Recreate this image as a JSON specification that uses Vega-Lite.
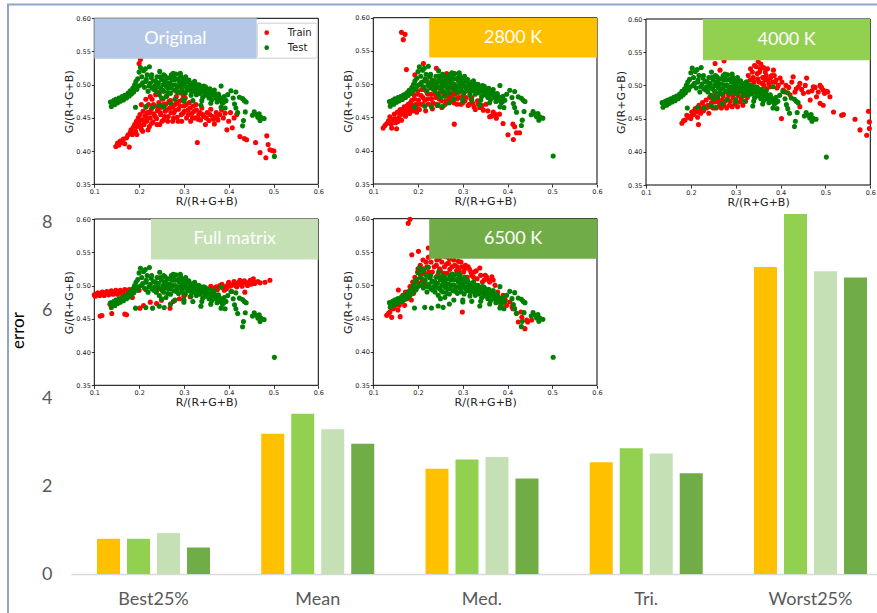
{
"$schema":"https://vega.github.io/schema/vega-lite/v6.json",
"width":806,"height":484,
"autosize":{"type":"none"},
"padding":{"left":71,"top":90,"right":0,"bottom":39},
"background":"white",
"datasets":{
"bars":[
{"stat":"Best25%","method":"2800 K","error":0.80},{"stat":"Best25%","method":"4000 K","error":0.80},{"stat":"Best25%","method":"Full matrix","error":0.93},{"stat":"Best25%","method":"6500 K","error":0.60},
{"stat":"Mean","method":"2800 K","error":3.19},{"stat":"Mean","method":"4000 K","error":3.64},{"stat":"Mean","method":"Full matrix","error":3.29},{"stat":"Mean","method":"6500 K","error":2.96},
{"stat":"Med.","method":"2800 K","error":2.39},{"stat":"Med.","method":"4000 K","error":2.60},{"stat":"Med.","method":"Full matrix","error":2.66},{"stat":"Med.","method":"6500 K","error":2.17},
{"stat":"Tri.","method":"2800 K","error":2.54},{"stat":"Tri.","method":"4000 K","error":2.86},{"stat":"Tri.","method":"Full matrix","error":2.74},{"stat":"Tri.","method":"6500 K","error":2.29},
{"stat":"Worst25%","method":"2800 K","error":6.98},{"stat":"Worst25%","method":"4000 K","error":8.18},{"stat":"Worst25%","method":"Full matrix","error":6.88},{"stat":"Worst25%","method":"6500 K","error":6.74}],
"border":[{"u":0,"u2":1,"v":0,"v2":1}],
"frame":[{"r":0.1,"r2":0.6,"g":0.35,"g2":0.6}],
"boxes":[{"panel":"Original","r":0.1,"r2":0.4625,"g":0.539,"g2":0.6},{"panel":"2800 K","r":0.225,"r2":0.6,"g":0.54,"g2":0.6},{"panel":"4000 K","r":0.227,"r2":0.6,"g":0.538,"g2":0.6},{"panel":"Full matrix","r":0.2266,"r2":0.6,"g":0.539,"g2":0.6},{"panel":"6500 K","r":0.225,"r2":0.6,"g":0.54,"g2":0.6}],
"labels":[{"panel":"Original","r":0.281,"g":0.5695},{"panel":"2800 K","r":0.4125,"g":0.57},{"panel":"4000 K","r":0.4135,"g":0.569},{"panel":"Full matrix","r":0.4133,"g":0.5695},{"panel":"6500 K","r":0.4125,"g":0.57}],
"test":[
{"r":0.136,"g":0.474},{"r":0.138,"g":0.467},{"r":0.140,"g":0.471},{"r":0.143,"g":0.476},{"r":0.146,"g":0.470},{"r":0.148,"g":0.478},{"r":0.152,"g":0.473},{"r":0.155,"g":0.480},{"r":0.158,"g":0.475},{"r":0.162,"g":0.482},{"r":0.165,"g":0.477},{"r":0.168,"g":0.484},{"r":0.172,"g":0.480},{"r":0.175,"g":0.487},{"r":0.178,"g":0.483},{"r":0.180,"g":0.491},{"r":0.183,"g":0.486},{"r":0.186,"g":0.495},{"r":0.188,"g":0.489},{"r":0.190,"g":0.500},{"r":0.192,"g":0.466},{"r":0.193,"g":0.505},{"r":0.195,"g":0.493},{"r":0.197,"g":0.509},{"r":0.199,"g":0.498},
{"r":0.200,"g":0.519},{"r":0.203,"g":0.526},{"r":0.206,"g":0.512},{"r":0.208,"g":0.503},{"r":0.210,"g":0.521},{"r":0.212,"g":0.496},{"r":0.214,"g":0.524},{"r":0.216,"g":0.508},{"r":0.218,"g":0.515},{"r":0.220,"g":0.490},{"r":0.223,"g":0.527},{"r":0.225,"g":0.502},{"r":0.227,"g":0.511},{"r":0.229,"g":0.495},
{"r":0.232,"g":0.506},{"r":0.235,"g":0.498},{"r":0.238,"g":0.490},{"r":0.240,"g":0.512},{"r":0.243,"g":0.503},{"r":0.245,"g":0.485},{"r":0.248,"g":0.495},{"r":0.250,"g":0.508},{"r":0.253,"g":0.500},{"r":0.255,"g":0.490},{"r":0.258,"g":0.513},{"r":0.260,"g":0.482},{"r":0.262,"g":0.503},{"r":0.265,"g":0.495},{"r":0.267,"g":0.510},{"r":0.270,"g":0.487},{"r":0.272,"g":0.515},{"r":0.275,"g":0.500},{"r":0.278,"g":0.492},{"r":0.280,"g":0.508},{"r":0.282,"g":0.516},{"r":0.285,"g":0.497},{"r":0.288,"g":0.488},{"r":0.290,"g":0.505},{"r":0.293,"g":0.513},{"r":0.295,"g":0.494},{"r":0.298,"g":0.500},{"r":0.300,"g":0.509},{"r":0.303,"g":0.487},{"r":0.305,"g":0.497},{"r":0.308,"g":0.505},{"r":0.310,"g":0.492},{"r":0.313,"g":0.500},{"r":0.316,"g":0.484},{"r":0.318,"g":0.496},{"r":0.320,"g":0.503},{"r":0.323,"g":0.490},{"r":0.326,"g":0.498},{"r":0.328,"g":0.485},{"r":0.331,"g":0.494},{"r":0.334,"g":0.500},{"r":0.336,"g":0.487},{"r":0.339,"g":0.493},{"r":0.342,"g":0.481},{"r":0.345,"g":0.490},{"r":0.348,"g":0.497},{"r":0.350,"g":0.484},{"r":0.353,"g":0.490},{"r":0.356,"g":0.480},{"r":0.359,"g":0.487},{"r":0.362,"g":0.477},{"r":0.365,"g":0.485},{"r":0.368,"g":0.492},{"r":0.371,"g":0.480},{"r":0.374,"g":0.474},{"r":0.377,"g":0.486},{"r":0.380,"g":0.478},{"r":0.383,"g":0.498},{"r":0.386,"g":0.472},{"r":0.390,"g":0.482},{"r":0.394,"g":0.476},
{"r":0.205,"g":0.500},{"r":0.215,"g":0.505},{"r":0.222,"g":0.498},{"r":0.228,"g":0.515},{"r":0.233,"g":0.493},{"r":0.237,"g":0.505},{"r":0.242,"g":0.497},{"r":0.247,"g":0.512},{"r":0.252,"g":0.492},{"r":0.257,"g":0.505},{"r":0.261,"g":0.497},{"r":0.264,"g":0.488},{"r":0.268,"g":0.502},{"r":0.271,"g":0.495},{"r":0.274,"g":0.508},{"r":0.277,"g":0.514},{"r":0.281,"g":0.500},{"r":0.284,"g":0.491},{"r":0.287,"g":0.509},{"r":0.291,"g":0.498},{"r":0.294,"g":0.506},{"r":0.297,"g":0.490},{"r":0.301,"g":0.502},{"r":0.304,"g":0.512},{"r":0.307,"g":0.494},{"r":0.311,"g":0.507},{"r":0.314,"g":0.496},{"r":0.317,"g":0.490},{"r":0.321,"g":0.497},{"r":0.324,"g":0.505},{"r":0.327,"g":0.493},{"r":0.330,"g":0.500},{"r":0.333,"g":0.488},{"r":0.337,"g":0.497},{"r":0.341,"g":0.490},{"r":0.344,"g":0.498},{"r":0.347,"g":0.485},{"r":0.351,"g":0.494},{"r":0.355,"g":0.487},{"r":0.358,"g":0.494},{"r":0.362,"g":0.484},{"r":0.366,"g":0.490},{"r":0.370,"g":0.486},{"r":0.373,"g":0.480},{"r":0.378,"g":0.483},{"r":0.382,"g":0.476},{"r":0.386,"g":0.480},{"r":0.389,"g":0.474},{"r":0.262,"g":0.510},{"r":0.292,"g":0.517},{"r":0.276,"g":0.517},{"r":0.255,"g":0.515},{"r":0.246,"g":0.520},{"r":0.300,"g":0.478},{"r":0.320,"g":0.476},{"r":0.340,"g":0.476},{"r":0.360,"g":0.472},{"r":0.250,"g":0.480},{"r":0.280,"g":0.478},
{"r":0.215,"g":0.467},{"r":0.230,"g":0.466},{"r":0.245,"g":0.469},{"r":0.256,"g":0.467},{"r":0.338,"g":0.469},{"r":0.383,"g":0.466},{"r":0.392,"g":0.465},{"r":0.300,"g":0.475},{"r":0.270,"g":0.472},
{"r":0.398,"g":0.485},{"r":0.405,"g":0.491},{"r":0.410,"g":0.480},{"r":0.416,"g":0.489},{"r":0.424,"g":0.481},{"r":0.431,"g":0.479},{"r":0.435,"g":0.476},{"r":0.439,"g":0.474},{"r":0.413,"g":0.471},{"r":0.416,"g":0.465},{"r":0.420,"g":0.458},{"r":0.437,"g":0.459},{"r":0.433,"g":0.446},{"r":0.431,"g":0.438},{"r":0.457,"g":0.459},{"r":0.462,"g":0.455},{"r":0.468,"g":0.456},{"r":0.472,"g":0.451},{"r":0.479,"g":0.449},{"r":0.453,"g":0.454},{"r":0.465,"g":0.451},{"r":0.470,"g":0.446},{"r":0.502,"g":0.392}],
"orig":[
{"r":0.148,"g":0.407},{"r":0.152,"g":0.412},{"r":0.155,"g":0.409},{"r":0.158,"g":0.415},{"r":0.162,"g":0.413},{"r":0.165,"g":0.418},{"r":0.168,"g":0.411},{"r":0.172,"g":0.420},{"r":0.175,"g":0.424},{"r":0.178,"g":0.406},{"r":0.180,"g":0.428},{"r":0.182,"g":0.432},{"r":0.185,"g":0.425},{"r":0.187,"g":0.436},{"r":0.190,"g":0.440},{"r":0.192,"g":0.430},{"r":0.194,"g":0.445},{"r":0.196,"g":0.437},{"r":0.198,"g":0.450},{"r":0.200,"g":0.442},{"r":0.200,"g":0.532},{"r":0.203,"g":0.538},{"r":0.202,"g":0.455},{"r":0.205,"g":0.433},{"r":0.207,"g":0.447},{"r":0.209,"g":0.460},{"r":0.211,"g":0.440},{"r":0.213,"g":0.453},{"r":0.215,"g":0.466},{"r":0.217,"g":0.445},{"r":0.219,"g":0.458},{"r":0.221,"g":0.470},{"r":0.223,"g":0.437},{"r":0.225,"g":0.450},{"r":0.227,"g":0.463},{"r":0.229,"g":0.478},{"r":0.231,"g":0.444},{"r":0.233,"g":0.456},{"r":0.235,"g":0.468},{"r":0.237,"g":0.485},{"r":0.239,"g":0.449},{"r":0.241,"g":0.461},{"r":0.244,"g":0.473},{"r":0.246,"g":0.440},{"r":0.248,"g":0.455},{"r":0.250,"g":0.466},{"r":0.253,"g":0.478},{"r":0.255,"g":0.447},{"r":0.258,"g":0.460},{"r":0.260,"g":0.471},{"r":0.262,"g":0.483},{"r":0.265,"g":0.452},{"r":0.268,"g":0.465},{"r":0.270,"g":0.476},{"r":0.272,"g":0.498},{"r":0.275,"g":0.445},{"r":0.278,"g":0.458},{"r":0.280,"g":0.470},{"r":0.283,"g":0.482},{"r":0.285,"g":0.451},{"r":0.288,"g":0.463},{"r":0.290,"g":0.475},{"r":0.292,"g":0.488},{"r":0.295,"g":0.445},{"r":0.298,"g":0.457},{"r":0.300,"g":0.468},{"r":0.303,"g":0.480},{"r":0.306,"g":0.450},{"r":0.309,"g":0.462},{"r":0.312,"g":0.473},{"r":0.315,"g":0.445},{"r":0.318,"g":0.457},{"r":0.321,"g":0.468},{"r":0.325,"g":0.450},{"r":0.328,"g":0.462},{"r":0.330,"g":0.413},{"r":0.333,"g":0.455},{"r":0.337,"g":0.447},{"r":0.340,"g":0.465},{"r":0.344,"g":0.452},{"r":0.348,"g":0.440},{"r":0.352,"g":0.458},{"r":0.356,"g":0.446},{"r":0.360,"g":0.463},{"r":0.364,"g":0.452},{"r":0.368,"g":0.441},{"r":0.372,"g":0.458},{"r":0.376,"g":0.447},{"r":0.380,"g":0.455},{"r":0.384,"g":0.462},{"r":0.388,"g":0.450},{"r":0.392,"g":0.457},{"r":0.396,"g":0.432},{"r":0.400,"g":0.445},{"r":0.404,"g":0.458},{"r":0.408,"g":0.435},{"r":0.412,"g":0.450},{"r":0.418,"g":0.455},{"r":0.425,"g":0.422},{"r":0.435,"g":0.419},{"r":0.440,"g":0.417},{"r":0.460,"g":0.413},{"r":0.470,"g":0.398},{"r":0.483,"g":0.390},{"r":0.485,"g":0.423},{"r":0.488,"g":0.410},{"r":0.492,"g":0.402},{"r":0.497,"g":0.401},{"r":0.501,"g":0.400},
{"r":0.195,"g":0.425},{"r":0.201,"g":0.448},{"r":0.204,"g":0.438},{"r":0.208,"g":0.430},{"r":0.212,"g":0.445},{"r":0.216,"g":0.452},{"r":0.220,"g":0.432},{"r":0.224,"g":0.458},{"r":0.228,"g":0.442},{"r":0.232,"g":0.470},{"r":0.236,"g":0.452},{"r":0.240,"g":0.440},{"r":0.243,"g":0.465},{"r":0.247,"g":0.458},{"r":0.251,"g":0.445},{"r":0.254,"g":0.470},{"r":0.257,"g":0.452},{"r":0.261,"g":0.462},{"r":0.264,"g":0.445},{"r":0.267,"g":0.475},{"r":0.271,"g":0.458},{"r":0.274,"g":0.466},{"r":0.277,"g":0.450},{"r":0.281,"g":0.462},{"r":0.284,"g":0.473},{"r":0.287,"g":0.445},{"r":0.291,"g":0.468},{"r":0.294,"g":0.455},{"r":0.297,"g":0.478},{"r":0.301,"g":0.460},{"r":0.305,"g":0.470},{"r":0.310,"g":0.455},{"r":0.314,"g":0.465},{"r":0.319,"g":0.450},{"r":0.323,"g":0.460},{"r":0.327,"g":0.470},{"r":0.332,"g":0.448},{"r":0.336,"g":0.458},{"r":0.342,"g":0.455},{"r":0.350,"g":0.450},{"r":0.358,"g":0.455},{"r":0.366,"g":0.448},{"r":0.374,"g":0.452},{"r":0.205,"g":0.470},{"r":0.215,"g":0.478},{"r":0.225,"g":0.482},{"r":0.245,"g":0.488},{"r":0.283,"g":0.490},{"r":0.298,"g":0.485}],
"k2800":[
{"r":0.163,"g":0.578},{"r":0.171,"g":0.575},{"r":0.167,"g":0.567},
{"r":0.122,"g":0.434},{"r":0.126,"g":0.438},{"r":0.130,"g":0.441},{"r":0.134,"g":0.445},{"r":0.137,"g":0.451},{"r":0.141,"g":0.434},{"r":0.144,"g":0.447},{"r":0.147,"g":0.455},{"r":0.150,"g":0.442},{"r":0.152,"g":0.433},{"r":0.154,"g":0.458},{"r":0.157,"g":0.450},{"r":0.160,"g":0.462},{"r":0.163,"g":0.446},{"r":0.166,"g":0.455},{"r":0.169,"g":0.466},{"r":0.172,"g":0.452},{"r":0.174,"g":0.522},{"r":0.175,"g":0.460},{"r":0.178,"g":0.470},{"r":0.181,"g":0.456},{"r":0.184,"g":0.465},{"r":0.186,"g":0.476},{"r":0.189,"g":0.460},{"r":0.191,"g":0.484},{"r":0.193,"g":0.514},{"r":0.195,"g":0.470},{"r":0.197,"g":0.458},{"r":0.199,"g":0.490},{"r":0.201,"g":0.476},{"r":0.203,"g":0.462},{"r":0.205,"g":0.500},{"r":0.207,"g":0.483},{"r":0.209,"g":0.470},{"r":0.212,"g":0.531},{"r":0.213,"g":0.492},{"r":0.215,"g":0.476},{"r":0.217,"g":0.460},{"r":0.219,"g":0.505},{"r":0.221,"g":0.486},{"r":0.223,"g":0.470},{"r":0.226,"g":0.512},{"r":0.228,"g":0.495},{"r":0.230,"g":0.478},{"r":0.232,"g":0.463},{"r":0.235,"g":0.502},{"r":0.238,"g":0.485},{"r":0.241,"g":0.524},{"r":0.241,"g":0.470},{"r":0.244,"g":0.495},{"r":0.247,"g":0.478},{"r":0.250,"g":0.510},{"r":0.253,"g":0.465},{"r":0.256,"g":0.488},{"r":0.259,"g":0.500},{"r":0.262,"g":0.475},{"r":0.264,"g":0.516},{"r":0.267,"g":0.492},{"r":0.270,"g":0.480},{"r":0.271,"g":0.476},{"r":0.274,"g":0.505},{"r":0.277,"g":0.485},{"r":0.280,"g":0.472},{"r":0.281,"g":0.440},{"r":0.284,"g":0.495},{"r":0.288,"g":0.478},{"r":0.292,"g":0.488},{"r":0.296,"g":0.470},{"r":0.300,"g":0.482},{"r":0.305,"g":0.475},{"r":0.310,"g":0.490},{"r":0.315,"g":0.470},{"r":0.320,"g":0.480},{"r":0.323,"g":0.471},{"r":0.328,"g":0.462},{"r":0.333,"g":0.475},{"r":0.338,"g":0.465},{"r":0.346,"g":0.461},{"r":0.352,"g":0.470},{"r":0.360,"g":0.451},{"r":0.368,"g":0.458},{"r":0.375,"g":0.449},{"r":0.382,"g":0.455},{"r":0.390,"g":0.441},{"r":0.401,"g":0.424},{"r":0.413,"g":0.417},{"r":0.416,"g":0.436},{"r":0.420,"g":0.427},{"r":0.427,"g":0.427},{"r":0.412,"g":0.440},
{"r":0.140,"g":0.440},{"r":0.148,"g":0.448},{"r":0.155,"g":0.444},{"r":0.160,"g":0.455},{"r":0.165,"g":0.462},{"r":0.170,"g":0.458},{"r":0.175,"g":0.467},{"r":0.180,"g":0.462},{"r":0.183,"g":0.472},{"r":0.188,"g":0.468},{"r":0.192,"g":0.478},{"r":0.196,"g":0.465},{"r":0.200,"g":0.485},{"r":0.204,"g":0.470},{"r":0.208,"g":0.492},{"r":0.211,"g":0.480},{"r":0.214,"g":0.468},{"r":0.218,"g":0.490},{"r":0.222,"g":0.478},{"r":0.225,"g":0.500},{"r":0.229,"g":0.485},{"r":0.233,"g":0.472},{"r":0.236,"g":0.492},{"r":0.240,"g":0.480},{"r":0.243,"g":0.468},{"r":0.246,"g":0.505},{"r":0.249,"g":0.488},{"r":0.252,"g":0.475},{"r":0.255,"g":0.498},{"r":0.258,"g":0.483},{"r":0.261,"g":0.470},{"r":0.265,"g":0.505},{"r":0.268,"g":0.486},{"r":0.272,"g":0.495},{"r":0.276,"g":0.478},{"r":0.279,"g":0.500},{"r":0.283,"g":0.485},{"r":0.287,"g":0.470},{"r":0.291,"g":0.480},{"r":0.295,"g":0.490},{"r":0.300,"g":0.472},{"r":0.307,"g":0.480},{"r":0.312,"g":0.468},{"r":0.318,"g":0.478},{"r":0.325,"g":0.466},{"r":0.335,"g":0.470},{"r":0.343,"g":0.468},{"r":0.356,"g":0.460},{"r":0.364,"g":0.452},{"r":0.372,"g":0.455}],
"k4000":[
{"r":0.180,"g":0.443},{"r":0.184,"g":0.447},{"r":0.187,"g":0.448},{"r":0.191,"g":0.455},{"r":0.195,"g":0.452},{"r":0.198,"g":0.453},{"r":0.202,"g":0.460},{"r":0.206,"g":0.456},{"r":0.210,"g":0.465},{"r":0.214,"g":0.460},{"r":0.217,"g":0.441},{"r":0.218,"g":0.470},{"r":0.222,"g":0.465},{"r":0.226,"g":0.474},{"r":0.230,"g":0.468},{"r":0.234,"g":0.478},{"r":0.238,"g":0.470},{"r":0.242,"g":0.482},{"r":0.246,"g":0.474},{"r":0.250,"g":0.466},{"r":0.254,"g":0.533},{"r":0.254,"g":0.485},{"r":0.258,"g":0.476},{"r":0.262,"g":0.468},{"r":0.265,"g":0.523},{"r":0.266,"g":0.488},{"r":0.270,"g":0.478},{"r":0.274,"g":0.537},{"r":0.274,"g":0.470},{"r":0.278,"g":0.490},{"r":0.282,"g":0.480},{"r":0.286,"g":0.470},{"r":0.290,"g":0.492},{"r":0.294,"g":0.482},{"r":0.298,"g":0.472},{"r":0.302,"g":0.495},{"r":0.306,"g":0.484},{"r":0.310,"g":0.475},{"r":0.314,"g":0.498},{"r":0.318,"g":0.486},{"r":0.322,"g":0.476},{"r":0.324,"g":0.505},{"r":0.328,"g":0.515},{"r":0.330,"g":0.490},{"r":0.333,"g":0.525},{"r":0.336,"g":0.500},{"r":0.339,"g":0.512},{"r":0.342,"g":0.530},{"r":0.345,"g":0.495},{"r":0.348,"g":0.518},{"r":0.350,"g":0.536},{"r":0.352,"g":0.505},{"r":0.355,"g":0.525},{"r":0.358,"g":0.490},{"r":0.360,"g":0.512},{"r":0.363,"g":0.500},{"r":0.366,"g":0.520},{"r":0.369,"g":0.495},{"r":0.372,"g":0.508},{"r":0.376,"g":0.498},{"r":0.380,"g":0.515},{"r":0.384,"g":0.523},{"r":0.388,"g":0.505},{"r":0.392,"g":0.496},{"r":0.399,"g":0.511},{"r":0.402,"g":0.450},{"r":0.406,"g":0.493},{"r":0.412,"g":0.500},{"r":0.421,"g":0.486},{"r":0.428,"g":0.513},{"r":0.435,"g":0.495},{"r":0.443,"g":0.503},{"r":0.443,"g":0.468},{"r":0.451,"g":0.488},{"r":0.458,"g":0.511},{"r":0.466,"g":0.478},{"r":0.473,"g":0.498},{"r":0.480,"g":0.483},{"r":0.488,"g":0.500},{"r":0.488,"g":0.473},{"r":0.495,"g":0.493},{"r":0.495,"g":0.470},{"r":0.503,"g":0.491},{"r":0.510,"g":0.483},{"r":0.518,"g":0.460},{"r":0.536,"g":0.455},{"r":0.540,"g":0.456},{"r":0.566,"g":0.449},{"r":0.577,"g":0.433},{"r":0.592,"g":0.425},{"r":0.596,"g":0.461},{"r":0.598,"g":0.445},{"r":0.598,"g":0.435},
{"r":0.200,"g":0.450},{"r":0.208,"g":0.462},{"r":0.215,"g":0.452},{"r":0.222,"g":0.458},{"r":0.228,"g":0.462},{"r":0.235,"g":0.466},{"r":0.240,"g":0.458},{"r":0.245,"g":0.468},{"r":0.252,"g":0.475},{"r":0.256,"g":0.466},{"r":0.260,"g":0.480},{"r":0.264,"g":0.474},{"r":0.268,"g":0.466},{"r":0.272,"g":0.484},{"r":0.276,"g":0.476},{"r":0.280,"g":0.466},{"r":0.284,"g":0.486},{"r":0.288,"g":0.476},{"r":0.292,"g":0.468},{"r":0.296,"g":0.488},{"r":0.300,"g":0.478},{"r":0.304,"g":0.468},{"r":0.308,"g":0.490},{"r":0.312,"g":0.480},{"r":0.316,"g":0.470},{"r":0.320,"g":0.492},{"r":0.326,"g":0.482},{"r":0.332,"g":0.508},{"r":0.337,"g":0.520},{"r":0.341,"g":0.505},{"r":0.346,"g":0.528},{"r":0.349,"g":0.510},{"r":0.353,"g":0.520},{"r":0.356,"g":0.532},{"r":0.359,"g":0.503},{"r":0.362,"g":0.527},{"r":0.365,"g":0.508},{"r":0.368,"g":0.515},{"r":0.371,"g":0.525},{"r":0.374,"g":0.503},{"r":0.378,"g":0.512},{"r":0.382,"g":0.505},{"r":0.386,"g":0.515},{"r":0.390,"g":0.508},{"r":0.395,"g":0.500},{"r":0.403,"g":0.505},{"r":0.410,"g":0.490},{"r":0.418,"g":0.497},{"r":0.425,"g":0.505},{"r":0.432,"g":0.490},{"r":0.440,"g":0.498},{"r":0.447,"g":0.494},{"r":0.455,"g":0.500},{"r":0.462,"g":0.490},{"r":0.470,"g":0.492},{"r":0.477,"g":0.497},{"r":0.484,"g":0.490},{"r":0.491,"g":0.497},{"r":0.498,"g":0.488},{"r":0.505,"g":0.490}],
"full":[
{"r":0.100,"g":0.486},{"r":0.105,"g":0.487},{"r":0.110,"g":0.486},{"r":0.115,"g":0.488},{"r":0.120,"g":0.487},{"r":0.125,"g":0.489},{"r":0.130,"g":0.488},{"r":0.135,"g":0.490},{"r":0.140,"g":0.489},{"r":0.145,"g":0.490},{"r":0.150,"g":0.488},{"r":0.155,"g":0.491},{"r":0.160,"g":0.490},{"r":0.165,"g":0.489},{"r":0.170,"g":0.492},{"r":0.175,"g":0.490},{"r":0.180,"g":0.491},{"r":0.113,"g":0.454},{"r":0.117,"g":0.455},{"r":0.139,"g":0.458},{"r":0.168,"g":0.457},{"r":0.172,"g":0.456},{"r":0.135,"g":0.472},{"r":0.145,"g":0.476},{"r":0.160,"g":0.480},{"r":0.185,"g":0.482},{"r":0.202,"g":0.466},{"r":0.210,"g":0.470},{"r":0.225,"g":0.475},{"r":0.239,"g":0.473},{"r":0.250,"g":0.478},{"r":0.269,"g":0.466},{"r":0.276,"g":0.476},{"r":0.290,"g":0.480},{"r":0.300,"g":0.484},{"r":0.314,"g":0.483},{"r":0.330,"g":0.488},{"r":0.345,"g":0.492},{"r":0.355,"g":0.494},{"r":0.365,"g":0.496},{"r":0.372,"g":0.498},{"r":0.380,"g":0.500},{"r":0.386,"g":0.497},{"r":0.392,"g":0.498},{"r":0.398,"g":0.501},{"r":0.403,"g":0.499},{"r":0.407,"g":0.491},{"r":0.410,"g":0.502},{"r":0.415,"g":0.500},{"r":0.420,"g":0.503},{"r":0.425,"g":0.508},{"r":0.428,"g":0.501},{"r":0.433,"g":0.504},{"r":0.436,"g":0.490},{"r":0.440,"g":0.503},{"r":0.445,"g":0.505},{"r":0.450,"g":0.502},{"r":0.455,"g":0.510},{"r":0.460,"g":0.505},{"r":0.470,"g":0.504},{"r":0.481,"g":0.505},{"r":0.492,"g":0.508},{"r":0.190,"g":0.492},{"r":0.200,"g":0.493},{"r":0.215,"g":0.494},{"r":0.230,"g":0.495},{"r":0.240,"g":0.493},{"r":0.255,"g":0.496},{"r":0.270,"g":0.497},{"r":0.285,"g":0.495},{"r":0.300,"g":0.497},{"r":0.315,"g":0.498},{"r":0.340,"g":0.497},{"r":0.360,"g":0.499},
{"r":0.102,"g":0.484},{"r":0.108,"g":0.489},{"r":0.112,"g":0.485},{"r":0.118,"g":0.490},{"r":0.122,"g":0.485},{"r":0.128,"g":0.491},{"r":0.132,"g":0.486},{"r":0.138,"g":0.492},{"r":0.142,"g":0.487},{"r":0.148,"g":0.493},{"r":0.152,"g":0.487},{"r":0.158,"g":0.493},{"r":0.162,"g":0.488},{"r":0.168,"g":0.494},{"r":0.172,"g":0.488},{"r":0.178,"g":0.494},{"r":0.183,"g":0.489},{"r":0.188,"g":0.495},{"r":0.395,"g":0.495},{"r":0.400,"g":0.505},{"r":0.405,"g":0.500},{"r":0.412,"g":0.506},{"r":0.418,"g":0.498},{"r":0.423,"g":0.505},{"r":0.430,"g":0.499},{"r":0.435,"g":0.507},{"r":0.442,"g":0.500},{"r":0.448,"g":0.508},{"r":0.452,"g":0.504},{"r":0.458,"g":0.503},{"r":0.465,"g":0.506},{"r":0.375,"g":0.494},{"r":0.385,"g":0.502},{"r":0.390,"g":0.493}],
"k6500":[
{"r":0.182,"g":0.599},{"r":0.178,"g":0.593},{"r":0.186,"g":0.546},{"r":0.201,"g":0.551},{"r":0.223,"g":0.556},{"r":0.249,"g":0.553},
{"r":0.130,"g":0.455},{"r":0.134,"g":0.458},{"r":0.137,"g":0.460},{"r":0.141,"g":0.452},{"r":0.145,"g":0.465},{"r":0.150,"g":0.470},{"r":0.155,"g":0.463},{"r":0.156,"g":0.493},{"r":0.160,"g":0.453},{"r":0.162,"g":0.475},{"r":0.166,"g":0.485},{"r":0.170,"g":0.470},{"r":0.175,"g":0.480},{"r":0.178,"g":0.490},{"r":0.182,"g":0.498},{"r":0.185,"g":0.478},{"r":0.188,"g":0.505},{"r":0.190,"g":0.488},{"r":0.193,"g":0.512},{"r":0.196,"g":0.495},{"r":0.199,"g":0.520},{"r":0.202,"g":0.503},{"r":0.205,"g":0.530},{"r":0.208,"g":0.510},{"r":0.211,"g":0.538},{"r":0.214,"g":0.518},{"r":0.217,"g":0.500},{"r":0.220,"g":0.528},{"r":0.223,"g":0.542},{"r":0.226,"g":0.512},{"r":0.229,"g":0.535},{"r":0.232,"g":0.520},{"r":0.235,"g":0.545},{"r":0.238,"g":0.505},{"r":0.241,"g":0.530},{"r":0.244,"g":0.515},{"r":0.247,"g":0.540},{"r":0.250,"g":0.522},{"r":0.253,"g":0.535},{"r":0.256,"g":0.510},{"r":0.259,"g":0.528},{"r":0.262,"g":0.543},{"r":0.265,"g":0.518},{"r":0.268,"g":0.533},{"r":0.271,"g":0.524},{"r":0.274,"g":0.540},{"r":0.278,"g":0.515},{"r":0.282,"g":0.530},{"r":0.286,"g":0.522},{"r":0.290,"g":0.536},{"r":0.294,"g":0.515},{"r":0.298,"g":0.528},{"r":0.299,"g":0.460},{"r":0.302,"g":0.520},{"r":0.306,"g":0.530},{"r":0.310,"g":0.512},{"r":0.315,"g":0.524},{"r":0.320,"g":0.515},{"r":0.326,"g":0.520},{"r":0.332,"g":0.510},{"r":0.338,"g":0.526},{"r":0.344,"g":0.505},{"r":0.350,"g":0.515},{"r":0.353,"g":0.513},{"r":0.358,"g":0.508},{"r":0.365,"g":0.513},{"r":0.372,"g":0.500},{"r":0.378,"g":0.490},{"r":0.383,"g":0.480},{"r":0.390,"g":0.485},{"r":0.398,"g":0.470},{"r":0.405,"g":0.475},{"r":0.412,"g":0.465},{"r":0.420,"g":0.458},{"r":0.424,"g":0.445},{"r":0.432,"g":0.452},{"r":0.439,"g":0.435},{"r":0.443,"g":0.448},{"r":0.454,"g":0.448},
{"r":0.195,"g":0.508},{"r":0.200,"g":0.525},{"r":0.206,"g":0.515},{"r":0.212,"g":0.525},{"r":0.218,"g":0.535},{"r":0.224,"g":0.520},{"r":0.230,"g":0.545},{"r":0.236,"g":0.528},{"r":0.242,"g":0.538},{"r":0.248,"g":0.525},{"r":0.254,"g":0.545},{"r":0.258,"g":0.518},{"r":0.264,"g":0.532},{"r":0.270,"g":0.540},{"r":0.276,"g":0.528},{"r":0.280,"g":0.538},{"r":0.288,"g":0.528},{"r":0.292,"g":0.522},{"r":0.296,"g":0.535},{"r":0.304,"g":0.525},{"r":0.312,"g":0.528},{"r":0.318,"g":0.520},{"r":0.324,"g":0.512},{"r":0.330,"g":0.522},{"r":0.340,"g":0.515},{"r":0.348,"g":0.508},{"r":0.360,"g":0.505},{"r":0.368,"g":0.508},{"r":0.150,"g":0.478},{"r":0.158,"g":0.470},{"r":0.168,"g":0.478},{"r":0.172,"g":0.490},{"r":0.180,"g":0.483},{"r":0.140,"g":0.470},{"r":0.385,"g":0.470},{"r":0.395,"g":0.478},{"r":0.410,"g":0.468},{"r":0.430,"g":0.460},{"r":0.445,"g":0.445}]
},
"layer":[
{"data":{"name":"border"},"mark":{"type":"rect","fill":"transparent","stroke":"#8FA6CC","strokeWidth":2},
 "encoding":{"x":{"field":"u","type":"quantitative","scale":{"domain":[0,1],"range":[-63,820],"nice":false,"zero":false},"axis":null},"x2":{"field":"u2"},
  "y":{"field":"v","type":"quantitative","scale":{"domain":[0,1],"range":[540,-85.5],"nice":false,"zero":false},"axis":null},"y2":{"field":"v2"}}},
{"data":{"name":"bars"},"mark":{"type":"bar"},
 "encoding":{
  "x":{"field":"stat","type":"nominal","sort":null,"scale":{"paddingInner":0.26941,"paddingOuter":0.08828,"align":0.7756},
   "axis":{"orient":"bottom","title":null,"domain":true,"domainColor":"#D9D9D9","domainWidth":1.5,"ticks":false,"labelFont":"Lato","labelFontSize":18,"labelColor":"#595959","labelPadding":16,"labelAngle":0}},
  "xOffset":{"field":"method","type":"nominal","sort":null,"scale":{"paddingInner":0.2333,"paddingOuter":0.1167}},
  "y":{"field":"error","type":"quantitative","scale":{"domain":[0,11],"nice":false},
   "axis":{"orient":"left","values":[0,2,4,6,8],"ticks":false,"domain":false,"grid":false,"labelFont":"Lato","labelFontSize":18,"labelColor":"#595959","labelPadding":19,"title":"error","titleFont":"Lato","titleFontSize":17,"titleColor":"#000000","titleFontWeight":"normal","titleX":-53,"titleY":240,"titleAngle":-90,"titleAlign":"center","titleBaseline":"middle"}},
  "fill":{"field":"method","type":"nominal","scale":{"domain":["2800 K","4000 K","Full matrix","6500 K","Original"],"range":["#FFC000","#92D050","#C5E0B4","#70AD47","#B4C7E7"]},"legend":null}
 }},
{"encoding":{
  "x":{"field":"r","type":"quantitative","scale":{"domain":[0.1,0.6],"range":[23.3,247.3],"nice":false,"zero":false},"axis":{"orient":"bottom","offset":-389.7,"values":[0.1,0.2,0.3,0.4,0.5,0.6],"format":".1f","title":"R/(R+G+B)"}},
  "y":{"field":"g","type":"quantitative","scale":{"domain":[0.35,0.6],"range":[94.3,-71.7],"nice":false,"zero":false},"axis":{"orient":"left","offset":-23.3,"values":[0.35,0.4,0.45,0.5,0.55,0.6],"format":".2f","title":"G/(R+G+B)"}}},
 "layer":[
  {"data":{"name":"frame"},"mark":{"type":"rect","fill":"white","stroke":"#000000","strokeWidth":1},"encoding":{"x2":{"field":"r2"},"y2":{"field":"g2"}}},
  {"data":{"name":"orig"},"mark":{"type":"circle","size":26,"opacity":1},"encoding":{"color":{"datum":"Train","type":"nominal","scale":{"domain":["Train","Test"],"range":["#FF0000","#008000"]},
    "legend":{"orient":"none","legendX":185.7,"legendY":-67.3,"title":null,"padding":5,"strokeColor":"#CCCCCC","fillColor":"white","cornerRadius":2,"labelFont":"DejaVu Sans","labelFontSize":10,"labelColor":"#222222","symbolSize":22,"symbolType":"circle","symbolStrokeWidth":0,"labelOffset":16,"rowPadding":5}}}},
  {"data":{"name":"test"},"mark":{"type":"circle","size":26,"opacity":1},"encoding":{"color":{"datum":"Test","type":"nominal","scale":{"domain":["Train","Test"],"range":["#FF0000","#008000"]},"legend":null}}},
  {"data":{"name":"boxes"},"transform":[{"filter":"datum.panel === 'Original'"}],"mark":{"type":"rect"},"encoding":{"x2":{"field":"r2"},"y2":{"field":"g2"},"fill":{"field":"panel","type":"nominal","scale":{"domain":["2800 K","4000 K","Full matrix","6500 K","Original"],"range":["#FFC000","#92D050","#C5E0B4","#70AD47","#B4C7E7"]},"legend":null}}},
  {"data":{"name":"labels"},"transform":[{"filter":"datum.panel === 'Original'"}],"mark":{"type":"text","font":"Lato","fontSize":18,"color":"white"},"encoding":{"text":{"field":"panel"}}}
 ]},
{"encoding":{
  "x":{"field":"r","type":"quantitative","scale":{"domain":[0.1,0.6],"range":[302.3,526],"nice":false,"zero":false},"axis":{"orient":"bottom","offset":-390,"values":[0.1,0.2,0.3,0.4,0.5,0.6],"format":".1f","title":"R/(R+G+B)"}},
  "y":{"field":"g","type":"quantitative","scale":{"domain":[0.35,0.6],"range":[94,-72.3],"nice":false,"zero":false},"axis":{"orient":"left","offset":-302.3,"values":[0.35,0.4,0.45,0.5,0.55,0.6],"format":".2f","title":"G/(R+G+B)"}}},
 "layer":[
  {"data":{"name":"frame"},"mark":{"type":"rect","fill":"white","stroke":"#000000","strokeWidth":1},"encoding":{"x2":{"field":"r2"},"y2":{"field":"g2"}}},
  {"data":{"name":"k2800"},"mark":{"type":"circle","size":26,"opacity":1},"encoding":{"color":{"datum":"Train","type":"nominal","scale":{"domain":["Train","Test"],"range":["#FF0000","#008000"]},"legend":null}}},
  {"data":{"name":"test"},"mark":{"type":"circle","size":26,"opacity":1},"encoding":{"color":{"datum":"Test","type":"nominal","scale":{"domain":["Train","Test"],"range":["#FF0000","#008000"]},"legend":null}}},
  {"data":{"name":"boxes"},"transform":[{"filter":"datum.panel === '2800 K'"}],"mark":{"type":"rect"},"encoding":{"x2":{"field":"r2"},"y2":{"field":"g2"},"fill":{"field":"panel","type":"nominal","scale":{"domain":["2800 K","4000 K","Full matrix","6500 K","Original"],"range":["#FFC000","#92D050","#C5E0B4","#70AD47","#B4C7E7"]},"legend":null}}},
  {"data":{"name":"labels"},"transform":[{"filter":"datum.panel === '2800 K'"}],"mark":{"type":"text","font":"Lato","fontSize":18,"color":"white"},"encoding":{"text":{"field":"panel"}}}
 ]},
{"encoding":{
  "x":{"field":"r","type":"quantitative","scale":{"domain":[0.1,0.6],"range":[575,799.3],"nice":false,"zero":false},"axis":{"orient":"bottom","offset":-389,"values":[0.1,0.2,0.3,0.4,0.5,0.6],"format":".1f","title":"R/(R+G+B)"}},
  "y":{"field":"g","type":"quantitative","scale":{"domain":[0.35,0.6],"range":[95,-71],"nice":false,"zero":false},"axis":{"orient":"left","offset":-575,"values":[0.35,0.4,0.45,0.5,0.55,0.6],"format":".2f","title":"G/(R+G+B)"}}},
 "layer":[
  {"data":{"name":"frame"},"mark":{"type":"rect","fill":"white","stroke":"#000000","strokeWidth":1},"encoding":{"x2":{"field":"r2"},"y2":{"field":"g2"}}},
  {"data":{"name":"k4000"},"mark":{"type":"circle","size":26,"opacity":1},"encoding":{"color":{"datum":"Train","type":"nominal","scale":{"domain":["Train","Test"],"range":["#FF0000","#008000"]},"legend":null}}},
  {"data":{"name":"test"},"mark":{"type":"circle","size":26,"opacity":1},"encoding":{"color":{"datum":"Test","type":"nominal","scale":{"domain":["Train","Test"],"range":["#FF0000","#008000"]},"legend":null}}},
  {"data":{"name":"boxes"},"transform":[{"filter":"datum.panel === '4000 K'"}],"mark":{"type":"rect"},"encoding":{"x2":{"field":"r2"},"y2":{"field":"g2"},"fill":{"field":"panel","type":"nominal","scale":{"domain":["2800 K","4000 K","Full matrix","6500 K","Original"],"range":["#FFC000","#92D050","#C5E0B4","#70AD47","#B4C7E7"]},"legend":null}}},
  {"data":{"name":"labels"},"transform":[{"filter":"datum.panel === '4000 K'"}],"mark":{"type":"text","font":"Lato","fontSize":18,"color":"white"},"encoding":{"text":{"field":"panel"}}}
 ]},
{"encoding":{
  "x":{"field":"r","type":"quantitative","scale":{"domain":[0.1,0.6],"range":[23.3,247.3],"nice":false,"zero":false},"axis":{"orient":"bottom","offset":-188.7,"values":[0.1,0.2,0.3,0.4,0.5,0.6],"format":".1f","title":"R/(R+G+B)"}},
  "y":{"field":"g","type":"quantitative","scale":{"domain":[0.35,0.6],"range":[295.3,129],"nice":false,"zero":false},"axis":{"orient":"left","offset":-23.3,"values":[0.35,0.4,0.45,0.5,0.55,0.6],"format":".2f","title":"G/(R+G+B)"}}},
 "layer":[
  {"data":{"name":"frame"},"mark":{"type":"rect","fill":"white","stroke":"#000000","strokeWidth":1},"encoding":{"x2":{"field":"r2"},"y2":{"field":"g2"}}},
  {"data":{"name":"full"},"mark":{"type":"circle","size":26,"opacity":1},"encoding":{"color":{"datum":"Train","type":"nominal","scale":{"domain":["Train","Test"],"range":["#FF0000","#008000"]},"legend":null}}},
  {"data":{"name":"test"},"mark":{"type":"circle","size":26,"opacity":1},"encoding":{"color":{"datum":"Test","type":"nominal","scale":{"domain":["Train","Test"],"range":["#FF0000","#008000"]},"legend":null}}},
  {"data":{"name":"boxes"},"transform":[{"filter":"datum.panel === 'Full matrix'"}],"mark":{"type":"rect"},"encoding":{"x2":{"field":"r2"},"y2":{"field":"g2"},"fill":{"field":"panel","type":"nominal","scale":{"domain":["2800 K","4000 K","Full matrix","6500 K","Original"],"range":["#FFC000","#92D050","#C5E0B4","#70AD47","#B4C7E7"]},"legend":null}}},
  {"data":{"name":"labels"},"transform":[{"filter":"datum.panel === 'Full matrix'"}],"mark":{"type":"text","font":"Lato","fontSize":18,"color":"white"},"encoding":{"text":{"field":"panel"}}}
 ]},
{"encoding":{
  "x":{"field":"r","type":"quantitative","scale":{"domain":[0.1,0.6],"range":[302.3,526],"nice":false,"zero":false},"axis":{"orient":"bottom","offset":-188.7,"values":[0.1,0.2,0.3,0.4,0.5,0.6],"format":".1f","title":"R/(R+G+B)"}},
  "y":{"field":"g","type":"quantitative","scale":{"domain":[0.35,0.6],"range":[295.3,128.7],"nice":false,"zero":false},"axis":{"orient":"left","offset":-302.3,"values":[0.35,0.4,0.45,0.5,0.55,0.6],"format":".2f","title":"G/(R+G+B)"}}},
 "layer":[
  {"data":{"name":"frame"},"mark":{"type":"rect","fill":"white","stroke":"#000000","strokeWidth":1},"encoding":{"x2":{"field":"r2"},"y2":{"field":"g2"}}},
  {"data":{"name":"k6500"},"mark":{"type":"circle","size":26,"opacity":1},"encoding":{"color":{"datum":"Train","type":"nominal","scale":{"domain":["Train","Test"],"range":["#FF0000","#008000"]},"legend":null}}},
  {"data":{"name":"test"},"mark":{"type":"circle","size":26,"opacity":1},"encoding":{"color":{"datum":"Test","type":"nominal","scale":{"domain":["Train","Test"],"range":["#FF0000","#008000"]},"legend":null}}},
  {"data":{"name":"boxes"},"transform":[{"filter":"datum.panel === '6500 K'"}],"mark":{"type":"rect"},"encoding":{"x2":{"field":"r2"},"y2":{"field":"g2"},"fill":{"field":"panel","type":"nominal","scale":{"domain":["2800 K","4000 K","Full matrix","6500 K","Original"],"range":["#FFC000","#92D050","#C5E0B4","#70AD47","#B4C7E7"]},"legend":null}}},
  {"data":{"name":"labels"},"transform":[{"filter":"datum.panel === '6500 K'"}],"mark":{"type":"text","font":"Lato","fontSize":18,"color":"white"},"encoding":{"text":{"field":"panel"}}}
 ]}
],
"resolve":{"scale":{"x":"independent","y":"independent"},"axis":{"x":"independent","y":"independent"}},
"config":{
 "view":{"stroke":null},
 "axis":{"grid":false,"domain":false,"ticks":true,"tickColor":"#000000","tickSize":3,"tickWidth":0.8,"labelFont":"DejaVu Sans","labelFontSize":6.5,"labelColor":"#222222","labelPadding":1,"labelFlush":false,"labelOverlap":false,"titleFont":"DejaVu Sans","titleFontSize":11,"titleFontWeight":"normal","titleColor":"#222222","titlePadding":1}
}
}
